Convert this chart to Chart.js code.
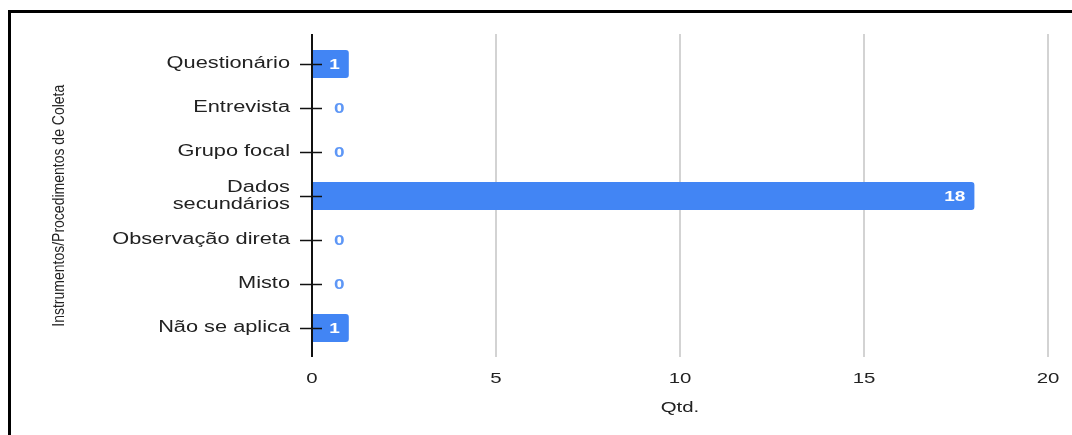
<!DOCTYPE html>
<html>
<head>
<meta charset="utf-8">
<script src="https://cdn.jsdelivr.net/npm/chart.js@4"></script>
<style>
  body { margin: 0; background: #fff; }
  .wrap { position: relative; width: 1072px; height: 435px; overflow: hidden; }
  .frame { position: absolute; left: 8px; top: 10px; width: 2000px; height: 1000px;
           border-top: 3px solid #000; border-left: 3px solid #000; pointer-events: none; }
  canvas { position: absolute; left: 0; top: 0; }
</style>
</head>
<body>
<div class="wrap">
  <canvas id="myChart" width="1072" height="435"></canvas>
  <div class="frame"></div>
</div>
<script>
const categories = ['Questionário', 'Entrevista', 'Grupo focal', ['Dados', 'secundários'], 'Observação direta', 'Misto', 'Não se aplica'];
const quantities = [1, 0, 0, 18, 0, 0, 1];
const xMax = 20;
const xStep = 5;

const barBlue = '#4285F4';
const textColor = '#222';
const fontFamily = '"Liberation Sans", Arial, sans-serif';
const textStretch = 1.36;   // the source picture has wide, horizontally stretched lettering
const rotatedStretch = 1.15; // rotated axis title is taller than plain text

// stretch text horizontally (screen x) around its anchor point
const wideText = {
    id: 'wideText',
    beforeInit(chart) {
        const c = chart.ctx;
        const orig = c.fillText.bind(c);
        c.fillText = function (text, x, y) {
            const m = c.getTransform();
            c.save();
            c.translate(x, y);
            if (Math.abs(m.b) > 1e-6) c.scale(1, rotatedStretch);
            else c.scale(textStretch, 1);
            orig(text, 0, 0);
            c.restore();
        };
    }
};

// grid lines, axis line and tick marks that poke above/below the plot area
const axisLines = {
    id: 'axisLines',
    beforeDatasetsDraw(chart) {
        const ctx = chart.ctx, x = chart.scales.x, a = chart.chartArea;
        ctx.save();
        ctx.strokeStyle = '#d3d3d3';
        ctx.lineWidth = 2;
        x.ticks.forEach(t => {
            if (t.value === 0) return;
            const px = Math.round(x.getPixelForValue(t.value));
            ctx.beginPath();
            ctx.moveTo(px, a.top - 8);
            ctx.lineTo(px, a.bottom + 7);
            ctx.stroke();
        });
        ctx.restore();
    },
    afterDatasetsDraw(chart) {
        const ctx = chart.ctx, x = chart.scales.x, y = chart.scales.y, a = chart.chartArea;
        const x0 = Math.round(x.getPixelForValue(0));
        ctx.save();
        ctx.strokeStyle = '#111';
        ctx.lineWidth = 2;
        ctx.beginPath();
        ctx.moveTo(x0, a.top - 8);
        ctx.lineTo(x0, a.bottom + 7);
        ctx.stroke();
        ctx.lineWidth = 1.5;
        y.ticks.forEach((t, i) => {
            const py = Math.round(y.getPixelForTick(i)) + 0.5;
            ctx.beginPath();
            ctx.moveTo(x0 - 12, py);
            ctx.lineTo(x0 + 10, py);
            ctx.stroke();
        });

        // value labels
        const meta = chart.getDatasetMeta(0);
        ctx.font = 'bold 14px ' + fontFamily;
        ctx.textBaseline = 'middle';
        meta.data.forEach((bar, i) => {
            const v = quantities[i];
            if (v > 0) {
                ctx.fillStyle = '#fff';
                ctx.textAlign = 'right';
                ctx.fillText(String(v), bar.x - 9, bar.y + 1);
            } else {
                ctx.fillStyle = '#5e97f6';
                ctx.textAlign = 'left';
                ctx.fillText(String(v), bar.x + 22, bar.y + 1);
            }
        });
        ctx.restore();
    }
};

const ctx = document.getElementById('myChart');
new Chart(ctx, {
    type: 'bar',
    data: {
        labels: categories,
        datasets: [{
            data: quantities,
            backgroundColor: barBlue,
            borderRadius: { topRight: 3, bottomRight: 3 },
            borderSkipped: false,
            categoryPercentage: 1,
            barPercentage: 0.636
        }]
    },
    options: {
        indexAxis: 'y',
        responsive: false,
        animation: false,
        layout: { padding: { top: 42, right: 24, bottom: 0, left: 0 } },
        plugins: { legend: { display: false }, tooltip: { enabled: false } },
        scales: {
            x: {
                min: 0,
                max: xMax,
                ticks: { stepSize: xStep, color: textColor, padding: 12,
                         font: { family: fontFamily, size: 15 } },
                grid: { display: false },
                border: { display: false },
                title: { display: true, text: 'Qtd.', color: textColor,
                         font: { family: fontFamily, size: 15 },
                         padding: { top: 0, bottom: 18 } },
                afterFit(scale) { scale.height = 85; }
            },
            y: {
                ticks: { color: textColor, padding: 14,
                         font: { family: fontFamily, size: 16, lineHeight: 1.05 } },
                grid: { display: false },
                border: { display: false },
                title: { display: true, text: 'Instrumentos/Procedimentos de Coleta     ', color: textColor,
                         font: { family: fontFamily, size: 14 },
                         padding: { top: 51, bottom: 0 } },
                afterFit(scale) { scale.width = 312; }
            }
        }
    },
    plugins: [wideText, axisLines]
});
</script>
</body>
</html>
